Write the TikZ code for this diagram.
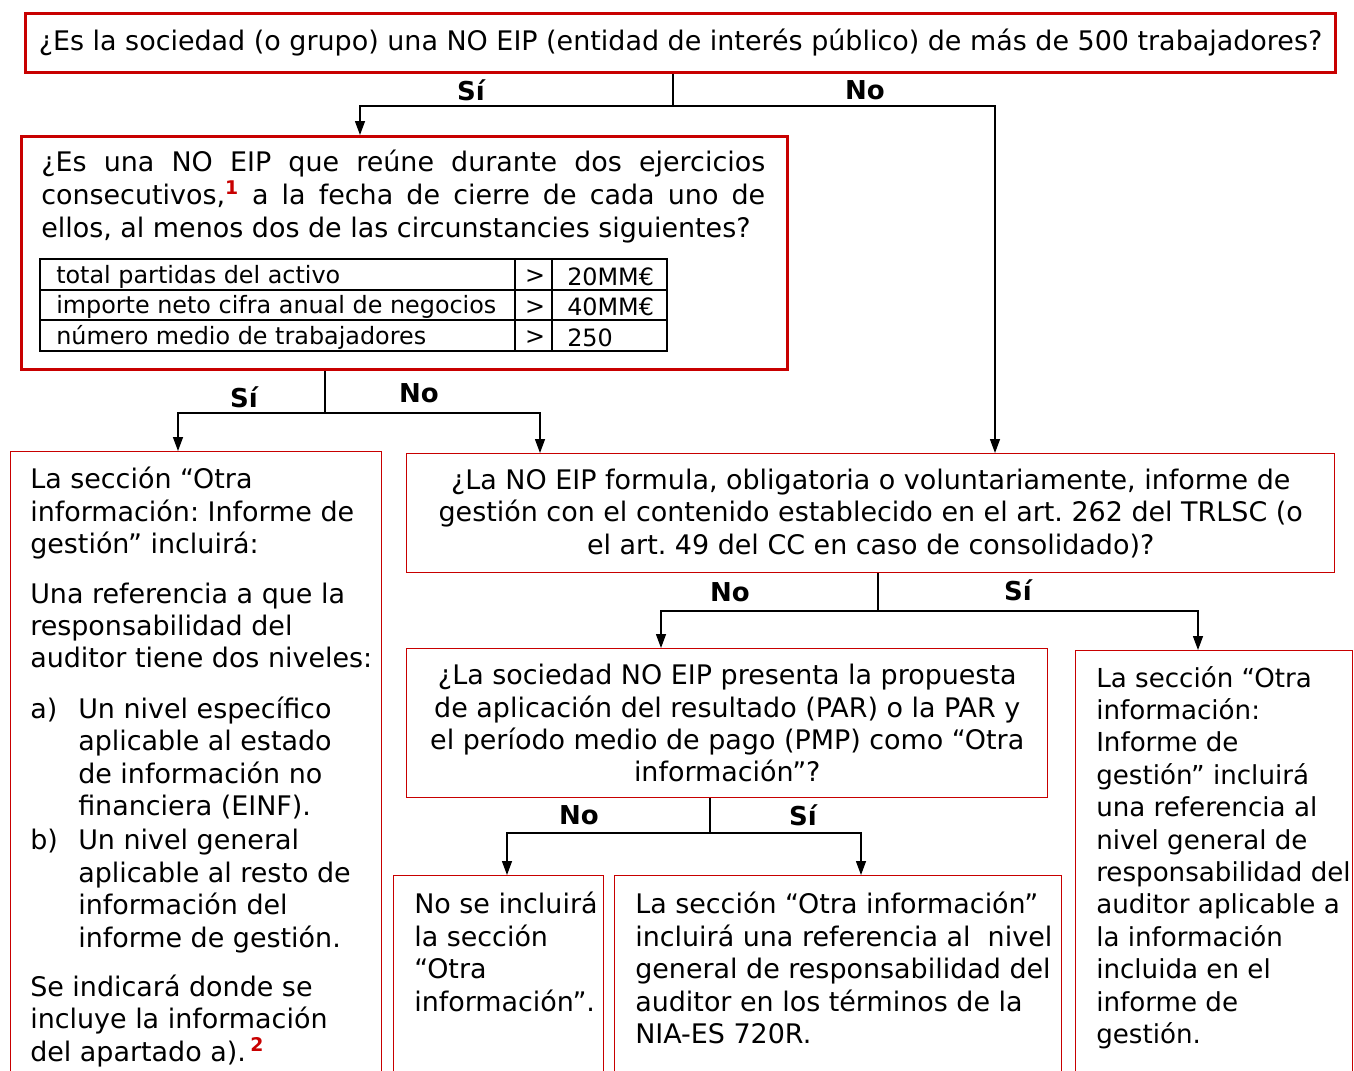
\documentclass[tikz,border=0pt]{standalone}
\usepackage{fontspec}
\setmainfont{DejaVu Sans}
\usetikzlibrary{arrows.meta}
\newdimen\pxu \pxu=0.75pt
\definecolor{boxred}{HTML}{C80000}
\frenchspacing

\tikzset{
  thickbox/.style={draw=boxred, line width=2.25pt, inner sep=0pt, anchor=north west},
  thinbox/.style={draw=boxred, line width=1.1pt, inner sep=0pt, anchor=north west},
  txt/.style={inner sep=0pt, anchor=north west, align=left},
  cell/.style={inner sep=0pt, font=\fontsize{17.9}{20}\selectfont},
  line/.style={black, line width=1pt},
  arr/.style={line, -{Triangle[width=7.5pt,length=10.5pt]}},
  lbl/.style={font=\fontsize{19.5}{22}\selectfont\bfseries}
}

\begin{document}
\begin{tikzpicture}[x=0.75pt,y=-0.75pt,font=\fontsize{20.2}{24.3}\selectfont]
\useasboundingbox (0,0) rectangle (1354,1071);
\clip (0,0) rectangle (1354,1071);

% first question
\node[thickbox, minimum width=1310\pxu, minimum height=59\pxu] (q1) at (24,12)
  {¿Es la sociedad (o grupo) una NO EIP (entidad de interés público) de más de 500 trabajadores?};

% second question with the table
\node[thickbox, minimum width=766\pxu, minimum height=233\pxu] (q2) at (20,135) {};
\node[txt, text width=724\pxu, align=justify, font=\fontsize{20.2}{24.75}\selectfont] (t2) at (41,150)
  {¿Es una NO EIP que reúne durante dos ejercicios\linebreak
   consecutivos,\textsuperscript{\textcolor{boxred}{\textbf{1}}} a la fecha de cierre de cada uno de\linebreak
   ellos, al menos dos de las circunstancies siguientes?};
\draw[line width=1.5pt] (40,259) rectangle (667,351);
\draw[line width=1.5pt] (40,290) -- (667,290) (40,320) -- (667,320) (515,259) -- (515,351) (552,259) -- (552,351);
\node[cell, anchor=west] (r1) at (56,276.5) {total partidas del activo};
\node[cell, anchor=west] (r2) at (56,307) {importe neto cifra anual de negocios};
\node[cell, anchor=west] (r3) at (56,337.5) {número medio de trabajadores};
\node[cell] (g1) at (535,277) {>};
\node[cell] (g2) at (535,307.5) {>};
\node[cell] (g3) at (535,338) {>};
\node[cell, anchor=west] (v1) at (567,276.5) {20MM€};
\node[cell, anchor=west] (v2) at (567,307) {40MM€};
\node[cell, anchor=west] (v3) at (567,337.5) {250};

% left answer
\node[thinbox, minimum width=371\pxu, minimum height=700\pxu] (b3) at (10,451) {};
\node[txt] (t3) at (30,467)
  {La sección “Otra\\
   información: Informe de\\
   gestión” incluirá:\\[17\pxu]
   Una referencia a que la\\
   responsabilidad del\\
   auditor tiene dos niveles:\\[18\pxu]
   \makebox[48\pxu][l]{a)}Un nivel específico\\
   \hspace*{48\pxu}aplicable al estado\\
   \hspace*{48\pxu}de información no\\
   \hspace*{48\pxu}financiera (EINF).\\[2\pxu]
   \makebox[48\pxu][l]{b)}Un nivel general\\
   \hspace*{48\pxu}aplicable al resto de\\
   \hspace*{48\pxu}información del\\
   \hspace*{48\pxu}informe de gestión.\\[17\pxu]
   Se indicará donde se\\
   incluye la información\\
   del apartado a).\,\textsuperscript{\textcolor{boxred}{\textbf{2}}}};

% informe de gestion question
\node[thinbox, minimum width=928\pxu, minimum height=119\pxu, align=center] (q4) at (406,453)
  {¿La NO EIP formula, obligatoria o voluntariamente, informe de\\
   gestión con el contenido establecido en el art. 262 del TRLSC (o\\
   el art. 49 del CC en caso de consolidado)?};

% PAR / PMP question
\node[thinbox, minimum width=641\pxu, minimum height=149\pxu, align=center] (q5) at (406,648)
  {¿La sociedad NO EIP presenta la propuesta\\
   de aplicación del resultado (PAR) o la PAR y\\
   el período medio de pago (PMP) como “Otra\\
   información”?};

% right answer
\node[thinbox, minimum width=277\pxu, minimum height=500\pxu] (b6) at (1075,650) {};
\node[txt, font=\fontsize{19.6}{24.3}\selectfont] (t6) at (1096,666)
  {La sección “Otra\\
   información:\\
   Informe de\\
   gestión” incluirá\\
   una referencia al\\
   nivel general de\\
   responsabilidad del\\
   auditor aplicable a\\
   la información\\
   incluida en el\\
   informe de\\
   gestión.};

% bottom answers
\node[thinbox, minimum width=210\pxu, minimum height=300\pxu] (b7) at (393,875) {};
\node[txt] (t7) at (414,892)
  {No se incluirá\\
   la sección\\
   “Otra\\
   información”.};
\node[thinbox, minimum width=447\pxu, minimum height=300\pxu] (b8) at (614,875) {};
\node[txt] (t8) at (635,892)
  {La sección “Otra información”\\
   incluirá una referencia al~ nivel\\
   general de responsabilidad del\\
   auditor en los términos de la\\
   NIA-ES 720R.};

% connectors
\coordinate (j1) at (673,106);
\draw[line] (j1 |- q1.south) -- (j1);
\draw[arr] (j1) -| (360,0 |- q2.north);
\draw[arr] (j1) -| (995,0 |- q4.north);
\node[lbl] (s1) at (471,90) {Sí};
\node[lbl] (n1) at (865,90) {No};

\coordinate (j2) at (325,413);
\draw[line] (j2 |- q2.south) -- (j2);
\draw[arr] (j2) -| (178,0 |- b3.north);
\draw[arr] (j2) -| (540,0 |- q4.north);
\node[lbl] (s2) at (244,397) {Sí};
\node[lbl] (n2) at (419,393) {No};

\coordinate (j3) at (878,611);
\draw[line] (j3 |- q4.south) -- (j3);
\draw[arr] (j3) -| (661,0 |- q5.north);
\draw[arr] (j3) -| (1198,0 |- b6.north);
\node[lbl] (n3) at (730,592) {No};
\node[lbl] (s3) at (1018,590) {Sí};

\coordinate (j4) at (710,833);
\draw[line] (j4 |- q5.south) -- (j4);
\draw[arr] (j4) -| (507,0 |- b7.north);
\draw[arr] (j4) -| (861,0 |- b8.north);
\node[lbl] (n4) at (579,815) {No};
\node[lbl] (s4) at (803,815) {Sí};
\end{tikzpicture}
\end{document}
